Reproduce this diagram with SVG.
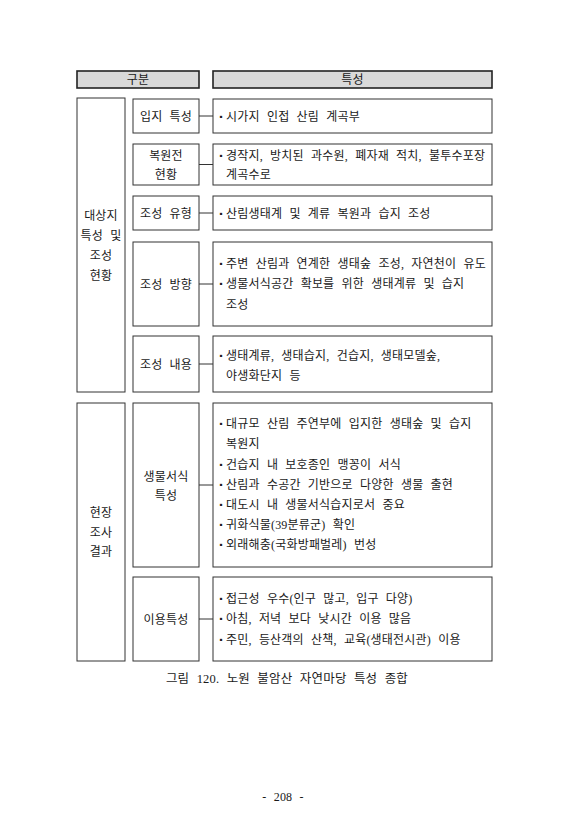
<svg xmlns="http://www.w3.org/2000/svg" width="567" height="840" viewBox="0 0 567 840">
<style>
.bg{fill:#fff}
.hdr{fill:#d9d9d9;stroke:#222;stroke-width:1.6}
.box{fill:#fff;stroke:#333;stroke-width:1}
.t{font-family:"Liberation Serif","Noto Sans CJK KR",serif;font-size:12px;fill:#1a1a1a;word-spacing:4px;letter-spacing:0.2px}
.c{text-anchor:middle}
.b{font-family:"Noto Sans CJK KR",sans-serif;font-size:8px;fill:#1a1a1a}
.conn line{stroke:#333;stroke-width:1}
</style>
<rect class="bg" x="0" y="0" width="567" height="840"/>
<g id="header-gubun"><rect class="hdr" x="77" y="71" width="122" height="17"/><text class="t c" x="138" y="84">구분</text></g>
<g id="header-teukseong"><rect class="hdr" x="213" y="71" width="279" height="17"/><text class="t c" x="352.5" y="84">특성</text></g>

<g id="group1"><rect class="box" x="77" y="98" width="48" height="294"/>
<text class="t c" x="101" y="220">대상지</text><text class="t c" x="101" y="240">특성 및</text><text class="t c" x="101" y="260">조성</text><text class="t c" x="101" y="279.5">현황</text></g>
<g id="group2"><rect class="box" x="77" y="403" width="48" height="258"/>
<text class="t c" x="101" y="517">현장</text><text class="t c" x="101" y="536.5">조사</text><text class="t c" x="101" y="556">결과</text></g>

<g id="n-ipji"><rect class="box" x="133" y="99" width="66" height="34"/><text class="t c" x="166" y="120.5">입지 특성</text></g>
<g id="n-bokwon"><rect class="box" x="133" y="144" width="66" height="41"/><text class="t c" x="166" y="159.5">복원전</text><text class="t c" x="166" y="178.5">현황</text></g>
<g id="n-yuhyeong"><rect class="box" x="133" y="196" width="66" height="34"/><text class="t c" x="166" y="217.5">조성 유형</text></g>
<g id="n-banghyang"><rect class="box" x="133" y="242" width="66" height="84"/><text class="t c" x="166" y="288.5">조성 방향</text></g>
<g id="n-naeyong"><rect class="box" x="133" y="336" width="66" height="56"/><text class="t c" x="166" y="368.5">조성 내용</text></g>
<g id="n-saengmul"><rect class="box" x="133" y="403" width="66" height="164"/><text class="t c" x="166" y="481">생물서식</text><text class="t c" x="166" y="500">특성</text></g>
<g id="n-iyong"><rect class="box" x="133" y="577" width="66" height="84"/><text class="t c" x="166" y="623.5">이용특성</text></g>

<g id="d-ipji"><rect class="box" x="213" y="99" width="279" height="34"/>
<text class="b" x="217" y="119.5">▪</text><text class="t" x="226" y="120.5">시가지 인접 산림 계곡부</text></g>
<g id="d-bokwon"><rect class="box" x="213" y="144" width="279" height="41"/>
<text class="b" x="217" y="158.5">▪</text><text class="t" x="226" y="159.5">경작지, 방치된 과수원, 폐자재 적치, 불투수포장</text>
<text class="t" x="226" y="178.5">계곡수로</text></g>
<g id="d-yuhyeong"><rect class="box" x="213" y="196" width="279" height="34"/>
<text class="b" x="217" y="216.5">▪</text><text class="t" x="226" y="217.5">산림생태계 및 계류 복원과 습지 조성</text></g>
<g id="d-banghyang"><rect class="box" x="213" y="242" width="279" height="84"/>
<text class="b" x="217" y="266.5">▪</text><text class="t" x="226" y="267.5">주변 산림과 연계한 생태숲 조성, 자연천이 유도</text>
<text class="b" x="217" y="287">▪</text><text class="t" x="226" y="288">생물서식공간 확보를 위한 생태계류 및 습지</text>
<text class="t" x="226" y="308.5">조성</text></g>
<g id="d-naeyong"><rect class="box" x="213" y="336" width="279" height="56"/>
<text class="b" x="217" y="358.5">▪</text><text class="t" x="226" y="359.5">생태계류, 생태습지, 건습지, 생태모델숲,</text>
<text class="t" x="226" y="379.5">야생화단지 등</text></g>
<g id="d-saengmul"><rect class="box" x="213" y="403" width="279" height="164"/>
<text class="b" x="217" y="426.5">▪</text><text class="t" x="226" y="427.5">대규모 산림 주연부에 입지한 생태숲 및 습지</text>
<text class="t" x="226" y="448">복원지</text>
<text class="b" x="217" y="467.5">▪</text><text class="t" x="226" y="468.5">건습지 내 보호종인 맹꽁이 서식</text>
<text class="b" x="217" y="487.5">▪</text><text class="t" x="226" y="488.5">산림과 수공간 기반으로 다양한 생물 출현</text>
<text class="b" x="217" y="507.5">▪</text><text class="t" x="226" y="508.5">대도시 내 생물서식습지로서 중요</text>
<text class="b" x="217" y="527.5">▪</text><text class="t" x="226" y="528.5">귀화식물(39분류군) 확인</text>
<text class="b" x="217" y="547.5">▪</text><text class="t" x="226" y="548.5">외래해충(국화방패벌레) 번성</text></g>
<g id="d-iyong"><rect class="box" x="213" y="577" width="279" height="84"/>
<text class="b" x="217" y="601.5">▪</text><text class="t" x="226" y="602.5">접근성 우수(인구 많고, 입구 다양)</text>
<text class="b" x="217" y="622">▪</text><text class="t" x="226" y="623">아침, 저녁 보다 낮시간 이용 많음</text>
<text class="b" x="217" y="642.5">▪</text><text class="t" x="226" y="643.5">주민, 등산객의 산책, 교육(생태전시관) 이용</text></g>

<g class="conn" id="connectors">
<line x1="199" y1="116" x2="213" y2="116"/>
<line x1="199" y1="164.5" x2="213" y2="164.5"/>
<line x1="199" y1="213" x2="213" y2="213"/>
<line x1="199" y1="284" x2="213" y2="284"/>
<line x1="199" y1="364" x2="213" y2="364"/>
<line x1="199" y1="485" x2="213" y2="485"/>
<line x1="199" y1="619" x2="213" y2="619"/>
</g>

<text class="t c" x="287" y="682.5" style="font-size:12.5px">그림 120. 노원 불암산 자연마당 특성 종합</text>
<text class="t c" x="283" y="801" style="font-family:'Liberation Serif',serif">- 208 -</text>
</svg>
